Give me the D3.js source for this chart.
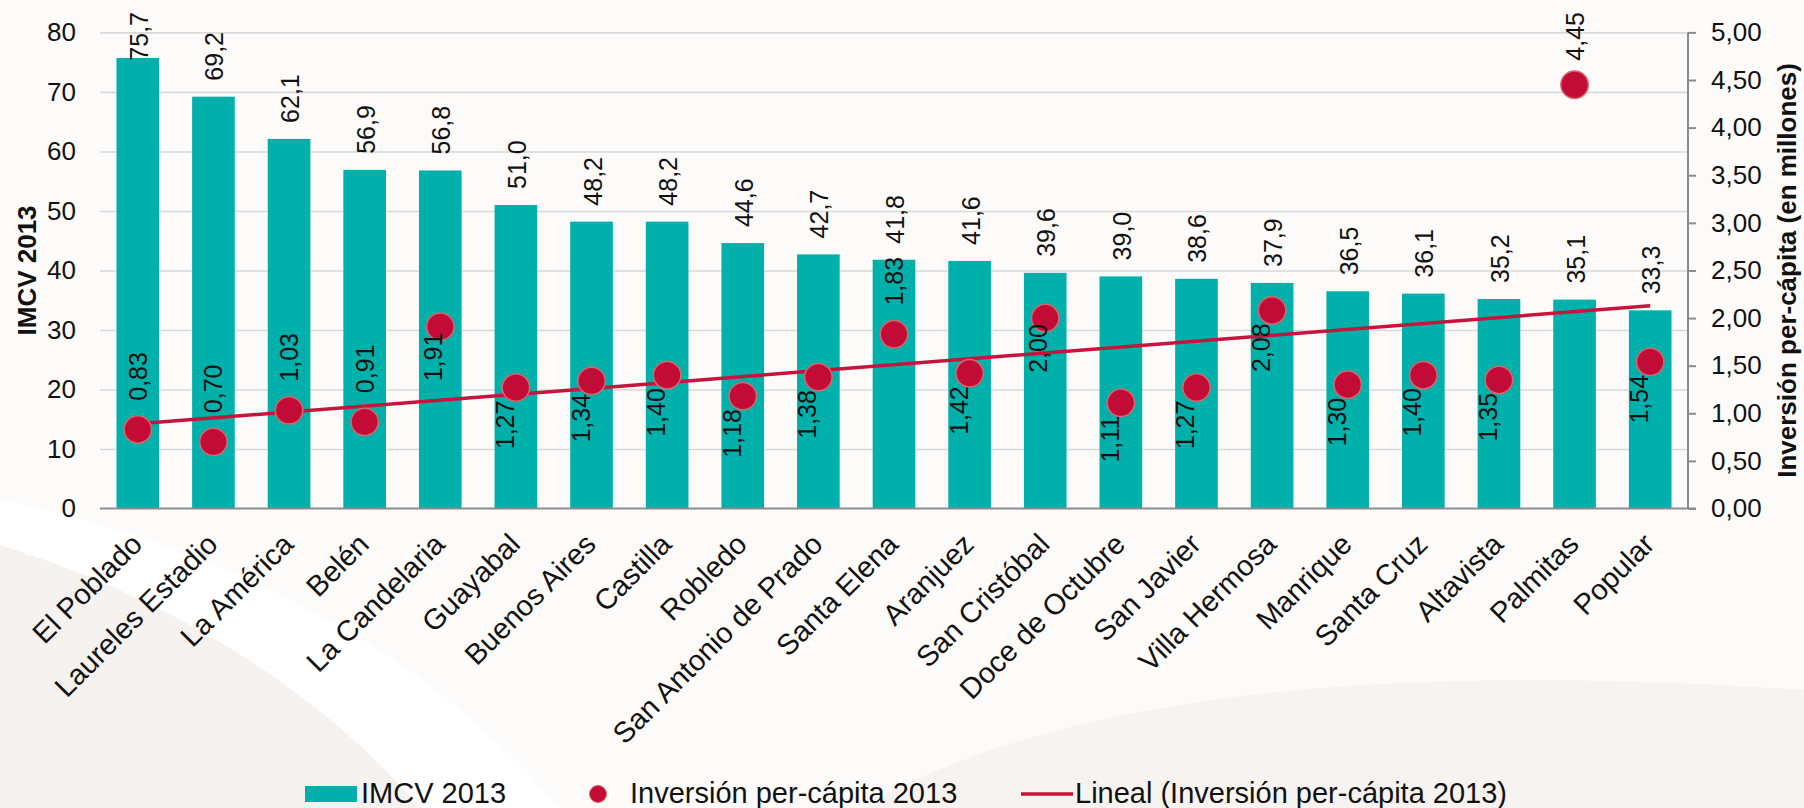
<!DOCTYPE html>
<html>
<head>
<meta charset="utf-8">
<script src="https://cdn.jsdelivr.net/npm/d3@7/dist/d3.min.js"></script>
<style>
  html, body { margin: 0; padding: 0; background: #fcfbfa; }
  svg { display: block; font-family: "Liberation Sans", Arial, sans-serif; }
</style>
</head>
<body>
<svg id="chart" width="1804" height="808"></svg>
<script>
var categories = ["El Poblado", "Laureles Estadio", "La América", "Belén", "La Candelaria",
  "Guayabal", "Buenos Aires", "Castilla", "Robledo", "San Antonio de Prado", "Santa Elena",
  "Aranjuez", "San Cristóbal", "Doce de Octubre", "San Javier", "Villa Hermosa", "Manrique",
  "Santa Cruz", "Altavista", "Palmitas", "Popular"];

var imcv = [75.7, 69.2, 62.1, 56.9, 56.8, 51.0, 48.2, 48.2, 44.6, 42.7, 41.8,
  41.6, 39.6, 39.0, 38.6, 37.9, 36.5, 36.1, 35.2, 35.1, 33.3];

var inversion = [0.83, 0.70, 1.03, 0.91, 1.91, 1.27, 1.34, 1.40, 1.18, 1.38, 1.83,
  1.42, 2.00, 1.11, 1.27, 2.08, 1.30, 1.40, 1.35, 4.45, 1.54];

// where each investment label sits relative to its point
var dotLabelSide = ["above", "above", "above", "above", "near", "below", "below", "below",
  "below", "below", "above", "below", "near", "below", "below", "below", "below",
  "below", "below", "above", "below"];

var leftTicks = [0, 10, 20, 30, 40, 50, 60, 70, 80];
var rightTicks = [0, 0.5, 1, 1.5, 2, 2.5, 3, 3.5, 4, 4.5, 5];

var legendLabels = ["IMCV 2013", "Inversión per-cápita 2013", "Lineal (Inversión per-cápita 2013)"];

var teal = "#00b0aa", red = "#c20b36";

var loc = d3.formatLocale({ decimal: ",", thousands: ".", grouping: [3], currency: ["$", ""] });
var f1 = loc.format(".1f"), f2 = loc.format(".2f");

var svg = d3.select("#chart");
var W = 1804, H = 808;
var marg = { left: 100, right: 1688, top: 32.4, bottom: 508.5 };

// soft background swooshes
svg.append("rect").attr("width", W).attr("height", H).attr("fill", "#fcfbfa");
svg.append("path")
  .attr("d", "M0,545 C180,600 330,700 420,808 L0,808 Z")
  .attr("fill", "#f5f2ef");
svg.append("path")
  .attr("d", "M0,500 C200,540 420,640 560,808 L420,808 C330,700 180,600 0,545 Z")
  .attr("fill", "#ffffff");
svg.append("path")
  .attr("d", "M860,808 C1050,700 1350,660 1804,690 L1804,808 Z")
  .attr("fill", "#f6f3f0");

var x = d3.scaleBand()
  .domain(categories)
  .range([marg.left, marg.right])
  .paddingInner(0.436)
  .paddingOuter(0.218);

var yL = d3.scaleLinear().domain([0, 80]).range([marg.bottom, marg.top]);
var yR = d3.scaleLinear().domain([0, 5]).range([marg.bottom, marg.top]);

var cx = function(i) { return x(categories[i]) + x.bandwidth() / 2; };

// gridlines
var grid = svg.append("g")
  .attr("transform", "translate(" + marg.left + ",0)")
  .call(d3.axisLeft(yL).tickValues(leftTicks.slice(1)).tickSize(-(marg.right - marg.left)).tickFormat(""));
grid.select(".domain").remove();
grid.selectAll("line").attr("stroke", "#d9d9d9").attr("stroke-width", 1.6);

// left axis labels
var gl = svg.append("g")
  .attr("transform", "translate(" + marg.left + ",0)")
  .call(d3.axisLeft(yL).tickValues(leftTicks).tickSize(0).tickPadding(24));
gl.select(".domain").remove();
gl.selectAll("text").attr("font-size", 26).attr("fill", "#111").attr("font-family", "Liberation Sans, Arial");

// bars
svg.append("g").selectAll("rect")
  .data(imcv)
  .join("rect")
  .attr("x", function(d, i) { return x(categories[i]); })
  .attr("y", function(d) { return yL(d); })
  .attr("width", x.bandwidth())
  .attr("height", function(d) { return yL(0) - yL(d); })
  .attr("fill", teal);

// bottom axis
var gb = svg.append("g")
  .attr("transform", "translate(0," + marg.bottom + ")")
  .call(d3.axisBottom(x).tickSize(0).tickFormat(""));
gb.select(".domain").remove();
svg.append("line")
  .attr("x1", marg.left).attr("x2", marg.right + 8)
  .attr("y1", marg.bottom).attr("y2", marg.bottom)
  .attr("stroke", "#8c8c8c").attr("stroke-width", 2);

svg.append("g").selectAll("text")
  .data(categories)
  .join("text")
  .attr("transform", function(d, i) { return "translate(" + (cx(i) + 6) + "," + 546 + ") rotate(-45)"; })
  .attr("text-anchor", "end")
  .attr("font-size", 29)
  .attr("fill", "#111")
  .text(function(d) { return d; });

// right axis
var gr = svg.append("g")
  .attr("transform", "translate(" + marg.right + ",0)")
  .call(d3.axisRight(yR).tickValues(rightTicks).tickSize(8).tickPadding(15).tickFormat(f2));
gr.select(".domain").attr("stroke", "#8c8c8c").attr("stroke-width", 2)
  .attr("d", "M0," + marg.top + "V" + marg.bottom);
gr.selectAll("line").attr("stroke", "#8c8c8c").attr("stroke-width", 2);
gr.selectAll("text").attr("font-size", 26).attr("fill", "#111").attr("font-family", "Liberation Sans, Arial");

// bar labels
svg.append("g").selectAll("text")
  .data(imcv)
  .join("text")
  .attr("font-size", 25)
  .attr("fill", "#111")
  .attr("dominant-baseline", "central")
  .text(function(d) { return f1(d); })
  .each(function(d, i) {
    var len = this.getComputedTextLength();
    var yy = Math.max(yL(d) - 16, 12 + len);
    d3.select(this).attr("transform", "translate(" + (cx(i) + 1) + "," + yy + ") rotate(-90)");
  });

// linear trend for inversion
var n = inversion.length;
var mx = d3.mean(inversion, function(d, i) { return i; });
var my = d3.mean(inversion);
var sxy = d3.sum(inversion, function(d, i) { return (i - mx) * (d - my); });
var sxx = d3.sum(inversion, function(d, i) { return (i - mx) * (i - mx); });
var slope = sxy / sxx, icpt = my - slope * mx;
var trend = [0, n - 1].map(function(i) { return [cx(i), yR(icpt + slope * i)]; });

svg.append("path")
  .attr("d", d3.line()(trend))
  .attr("stroke", "#c8133c")
  .attr("stroke-width", 3.5)
  .attr("fill", "none");

// dots
var r = 13.7;
svg.append("g").selectAll("circle")
  .data(inversion)
  .join("circle")
  .attr("cx", function(d, i) { return cx(i); })
  .attr("cy", function(d) { return yR(d); })
  .attr("r", r)
  .attr("fill", red)
  .attr("stroke", "#d8676b")
  .attr("stroke-width", 1.5);

// dot labels
svg.append("g").selectAll("text")
  .data(inversion)
  .join("text")
  .attr("font-size", 25)
  .attr("fill", "#111")
  .attr("dominant-baseline", "central")
  .text(function(d) { return f2(d); })
  .each(function(d, i) {
    var len = this.getComputedTextLength();
    var side = dotLabelSide[i];
    var px = cx(i), py = yR(d), tx, ty;
    if (side === "above") {
      tx = px;
      ty = Math.max(py - r - 15, 12 + len);
    } else if (side === "near") {
      tx = px - 7;
      ty = py + 6 + len;
    } else {
      tx = px - 11;
      ty = py + 13 + len;
    }
    d3.select(this).attr("transform", "translate(" + tx + "," + ty + ") rotate(-90)");
  });

// axis titles
svg.append("text")
  .attr("transform", "translate(36," + ((marg.top + marg.bottom) / 2) + ") rotate(-90)")
  .attr("text-anchor", "middle")
  .attr("font-size", 26).attr("font-weight", "bold").attr("fill", "#111")
  .text("IMCV 2013");

svg.append("text")
  .attr("transform", "translate(1796," + ((marg.top + marg.bottom) / 2) + ") rotate(-90)")
  .attr("text-anchor", "middle")
  .attr("font-size", 26).attr("font-weight", "bold").attr("fill", "#111")
  .text("Inversión per-cápita (en millones)");

// legend
var lg = svg.append("g").attr("font-size", 29).attr("fill", "#111");
lg.append("rect").attr("x", 305).attr("y", 786).attr("width", 52).attr("height", 16).attr("fill", teal);
lg.append("text").attr("x", 361).attr("y", 803).text(legendLabels[0]);
lg.append("circle").attr("cx", 598).attr("cy", 794).attr("r", 8.5).attr("fill", red).attr("stroke", "#d8676b");
lg.append("text").attr("x", 630).attr("y", 803).text(legendLabels[1]);
lg.append("line").attr("x1", 1021).attr("x2", 1073).attr("y1", 794).attr("y2", 794)
  .attr("stroke", "#c8133c").attr("stroke-width", 3.5);
lg.append("text").attr("x", 1075).attr("y", 803).text(legendLabels[2]);
</script>
</body>
</html>
